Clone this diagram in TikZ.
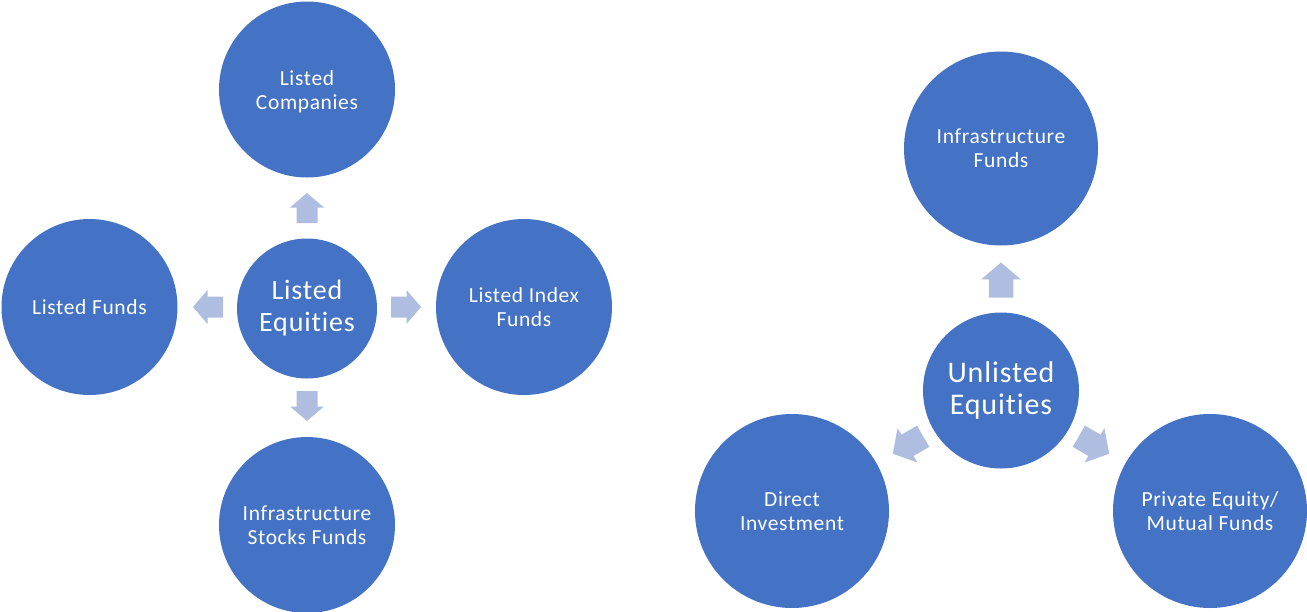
\documentclass[tikz,border=0pt]{standalone}
\usepackage{fontspec}
\setmainfont{Carlito}[Ligatures={NoCommon}, LetterSpace=3]
\definecolor{circblue}{HTML}{4472C4}
\definecolor{arrowfill}{HTML}{AFBDE0}
\tikzset{
  bubble/.style={circle, fill=circblue, draw=none, inner sep=0pt, text=white, align=center},
  outer/.style={bubble, font=\fontsize{21.5}{24}\selectfont},
  hubL/.style={bubble, minimum size=140pt, font=\fontsize{28}{32}\selectfont},
  hubR/.style={bubble, minimum size=156pt, font=\fontsize{30}{32}\selectfont},
  blockarrow/.pic={\fill[arrowfill] (-15,-10.5) -- (0.5,-10.5) -- (0.5,-17) -- (15,0) -- (0.5,17) -- (0.5,10.5) -- (-15,10.5) -- cycle;}
}
\begin{document}
\begin{tikzpicture}[x=1pt,y=-1pt]
\useasboundingbox (0,0) rectangle (1307,611);
% left group
\node[hubL] (le) at (307,308.5) {Listed\\Equities};
\node[outer, minimum size=176pt] (lc) at (307,89.5) {};
\node[text=white, align=center, inner sep=0pt, font=\fontsize{21.5}{24}\selectfont] (lct) at (307,92) {Listed\\Companies};
\node[outer, minimum size=176pt] (lf) at (89.5,307) {Listed Funds};
\node[outer, minimum size=176pt] (li) at (524,307) {Listed Index\\Funds};
\node[outer, minimum size=176pt] (is) at (307,525) {Infrastructure\\Stocks Funds};
\coordinate (aU) at (307,208);
\coordinate (aL) at (208,307);
\coordinate (aR) at (406,307);
\coordinate (aD) at (307,406);
\pic[rotate=90] at (aU) {blockarrow};
\pic[rotate=180] at (aL) {blockarrow};
\pic[rotate=0] at (aR) {blockarrow};
\pic[rotate=270] at (aD) {blockarrow};
% right group
\node[hubR] (ue) at (1001,390.5) {Unlisted\\Equities};
\node[outer, minimum size=194pt] (if) at (1001,148.5) {Infrastructure\\Funds};
\node[outer, minimum size=194pt] (di) at (792,511) {Direct\\Investment};
\node[outer, minimum size=194pt] (pe) at (1210,511) {Private Equity/\\Mutual Funds};
\coordinate (bU) at (1001,280);
\coordinate (bL) at (908,445);
\coordinate (bR) at (1094,445);
\pic[rotate=90, scale=1.167] at (bU) {blockarrow};
\pic[rotate=210, scale=1.167] at (bL) {blockarrow};
\pic[rotate=330, scale=1.167] at (bR) {blockarrow};
\end{tikzpicture}
\end{document}
